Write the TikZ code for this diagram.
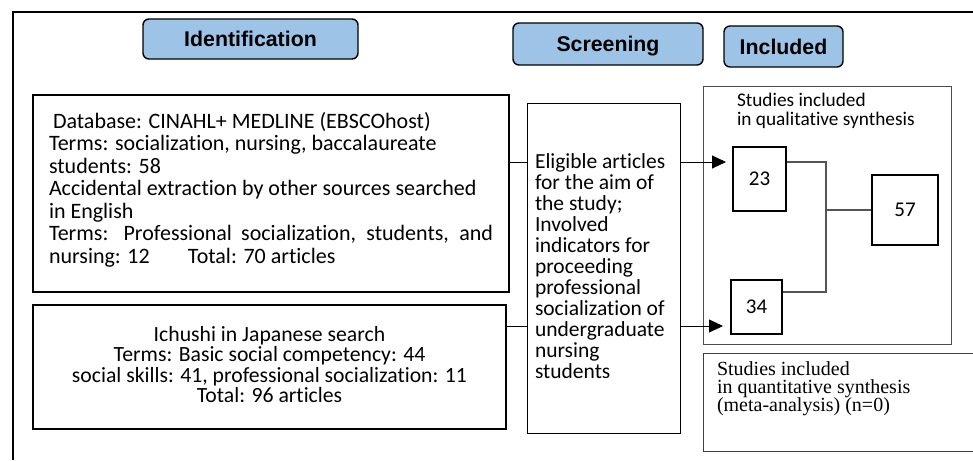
\documentclass[tikz,border=0pt]{standalone}
\usepackage{fontspec}
\setmainfont{Carlito}[Ligatures={NoCommon,NoRare}]
\newfontfamily\hdrfont{Liberation Sans}
\newfontfamily\serfont{Liberation Serif}
\usetikzlibrary{arrows.meta}
\definecolor{hdrblue}{RGB}{157,195,230}
\definecolor{lgray}{RGB}{85,85,85}
\begin{document}
\begin{tikzpicture}[x=1pt,y=-1pt,
  hdr/.style={draw, line width=1.4pt, rounded corners=6pt, fill=hdrblue, inner sep=0pt,
    text height=16pt, text depth=0pt, font=\hdrfont\bfseries\fontsize{21.3}{21}\selectfont},
  bbox/.style={draw, line width=2pt, inner sep=0pt},
  tbox/.style={draw, line width=0.9pt, inner sep=0pt},
  numbox/.style={draw, line width=2pt, inner sep=0pt, font=\fontsize{21}{21}\selectfont},
  txt/.style={inner sep=0pt, outer sep=0pt, anchor=base west},
  conn/.style={line width=0.9pt},
  gconn/.style={line width=1.2pt, draw=lgray},
  arr/.style={line width=0.9pt, -{Triangle[length=14pt,width=13pt]}}]
\useasboundingbox (0,0) rectangle (973,460);
% outer frame
\draw[line width=2pt] (12.5,460) -- (12.5,12.5) -- (973,12.5);
% headers
\node[hdr, minimum width=215pt, minimum height=40pt] (idf) at (250.5,39) {Identification};
\node[hdr, minimum width=190pt, minimum height=42pt] (scr) at (608,44) {Screening};
\node[hdr, minimum width=119pt, minimum height=41pt] (inc) at (783.5,46.5) {Included};
% database box
\node[bbox, minimum width=476pt, minimum height=197pt] (db) at (271,193.5) {};
\node[txt] (dbt) at (49,128.3) {\vtop{\hsize=450pt\parindent=0pt\parskip=0pt\fontsize{22}{22.5}\selectfont
\hspace*{4pt}Database: CINAHL+ MEDLINE (EBSCOhost)\par
Terms: socialization, nursing, baccalaureate\par
students: 58\par
Accidental extraction by other sources searched\par
in English\par
\makebox[444pt][s]{Terms: Professional socialization, students, and}\par
\makebox[139pt][l]{nursing: 12}Total: 70 articles\par}};
% ichushi box
\node[bbox, minimum width=473pt, minimum height=124pt] (ich) at (269.5,367) {};
\node[txt, anchor=base] (icht) at (269.5,341) {\vtop{\hsize=470pt\parindent=0pt\parskip=0pt\centering\fontsize{21.7}{20.6}\selectfont
Ichushi in Japanese search\par
Terms: Basic social competency: 44\par
social skills: 41, professional socialization: 11\par
Total: 96 articles\par}};
% eligible box
\node[tbox, minimum width=153pt, minimum height=330pt] (el) at (603.5,268) {};
\node[txt] (elt) at (535,168.3) {\vtop{\hsize=145pt\parindent=0pt\parskip=0pt\fontsize{21.5}{21}\selectfont
Eligible articles\par
for the aim of\par
the study;\par
Involved\par
indicators for\par
proceeding\par
professional\par
socialization of\par
undergraduate\par
nursing\par
students\par}};
% qualitative box
\node[tbox, draw=black!70, minimum width=248pt, minimum height=258pt] (ql) at (827,215) {};
\node[txt] (qlt) at (737,106.7) {\vtop{\hsize=210pt\parindent=0pt\parskip=0pt\fontsize{19.3}{18.3}\selectfont
Studies included\par
in qualitative synthesis\par}};
\node[numbox, minimum width=53pt, minimum height=64pt] (n23) at (759.5,179) {23};
\node[numbox, minimum width=66pt, minimum height=70pt] (n57) at (905,210) {57};
\node[numbox, minimum width=51pt, minimum height=54pt] (n34) at (756.5,307) {34};
% quantitative box (open at the right edge)
\draw[line width=1pt, draw=black!75] (975,353) -- (703,353) -- (703,451) -- (975,451);
\node[txt] (qnt) at (717,375) {\vtop{\hsize=250pt\parindent=0pt\parskip=0pt\serfont\fontsize{20}{18.3}\selectfont
Studies included\par
in quantitative synthesis\par
(meta-analysis) (n=0)\par}};
% connectors
\coordinate (ra) at (0,162);
\coordinate (rb) at (0,326);
\coordinate (j1) at (826,162);
\coordinate (j2) at (826,292);
\coordinate (jm) at (826,210);
\draw[conn] (db.east |- ra) -- (el.west |- ra);
\draw[conn] (ich.east |- rb) -- (el.west |- rb);
\draw[arr, shorten >=6pt] (el.east |- ra) -- (n23.west |- ra);
\draw[arr, shorten >=7pt] (el.east |- rb) -- (n34.west |- rb);
\draw[gconn] (n23.east |- ra) -- (j1) -- (j2) -- (n34.east |- j2);
\draw[gconn] (jm) -- (n57.west);
\end{tikzpicture}
\end{document}
